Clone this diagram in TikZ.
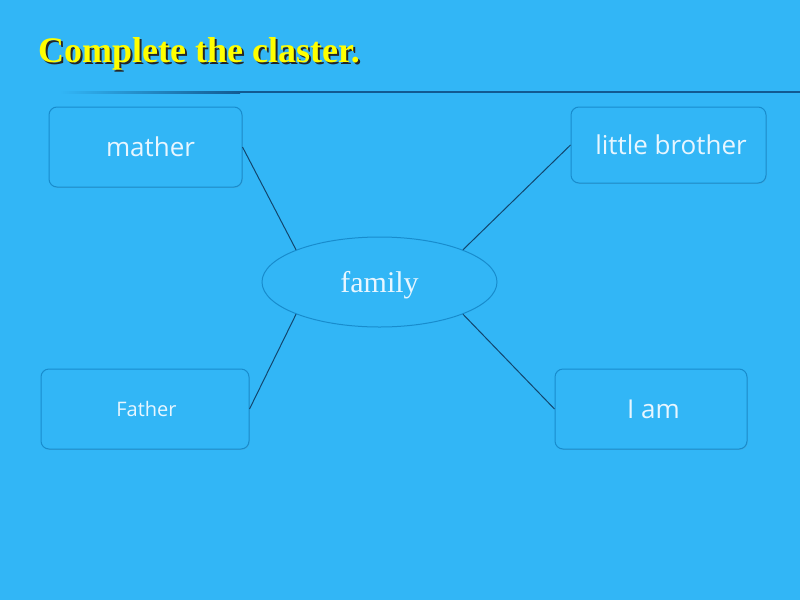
\documentclass[tikz,border=0pt]{standalone}
\usepackage{fontspec}
\setmainfont{Liberation Serif}
\newfontfamily\boxfont{Open Sans}
\usetikzlibrary{shapes.geometric,shadows}
\definecolor{bg}{RGB}{50,182,246}
\definecolor{edge}{RGB}{24,140,205}
\definecolor{txt}{RGB}{232,246,255}
\definecolor{rule}{RGB}{18,90,145}
\definecolor{conn}{RGB}{18,70,110}
\definecolor{ttl}{RGB}{255,255,0}
\tikzset{
  cbox/.style={draw=edge, line width=1pt, rounded corners=8pt, fill=bg,
    text=txt, font=\boxfont\fontsize{26}{30}\selectfont, inner sep=0pt,
    drop shadow={shadow xshift=0.6pt, shadow yshift=-0.8pt, opacity=0.25}},
  cell/.style={draw=edge, line width=1pt, ellipse, fill=bg, text=txt,
    minimum width=235pt, minimum height=90pt, inner sep=0pt,
    font=\fontsize{30}{36}\selectfont},
  link/.style={draw=conn, line width=1pt},
  ttlfont/.style={font=\bfseries\fontsize{36}{40}\selectfont}
}
\begin{document}
\begin{tikzpicture}[x=1pt,y=-1pt]
\fill[bg] (0,0) rectangle (800,600);
\useasboundingbox (0,0) rectangle (800,600);
% title
\node[anchor=base west, inner sep=0pt, text=black!85, ttlfont] (tsh) at (40,64) {Complete the claster.};
\node[anchor=base west, inner sep=0pt, text=ttl, ttlfont] (title) at (38,62) {Complete the claster.};
% rule
\shade[left color=bg, right color=rule] (60,91) rectangle (240,93);
\fill[rule] (240,91) rectangle (800,93);
% nodes
\node[cbox, minimum width=193pt, minimum height=80pt] (m) at (145.5,147) {\hspace*{10pt}mather};
\node[cbox, minimum width=195pt, minimum height=76pt] (lb) at (668.5,145) {\hspace*{5pt}little brother};
\node[cbox, minimum width=208pt, minimum height=80pt, font=\boxfont\fontsize{20}{22}\selectfont] (f) at (145,409) {\hspace*{3pt}Father};
\node[cbox, minimum width=192pt, minimum height=80pt] (i) at (651,409) {\hspace*{5pt}I am};
\node[cell] (fam) at (379.5,282) {\raisebox{-10pt}[0pt][0pt]{family}};
% connectors
\draw[link] (m.east) -- (fam.north west);
\draw[link] (lb.west) -- (fam.north east);
\draw[link] (f.east) -- (fam.south west);
\draw[link] (i.west) -- (fam.south east);
\end{tikzpicture}
\end{document}
